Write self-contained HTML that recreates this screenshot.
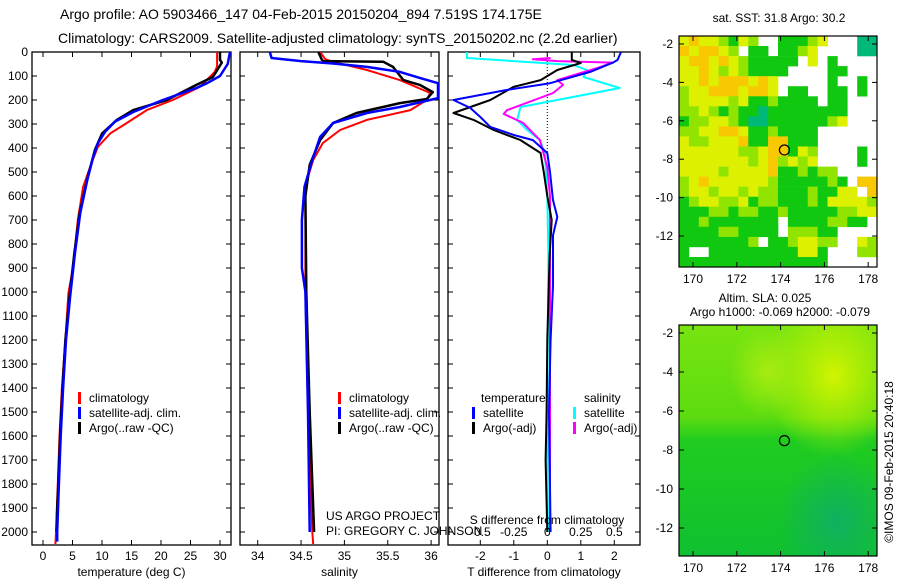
<!DOCTYPE html>
<html><head><meta charset="utf-8"><style>
html,body{margin:0;padding:0;background:#fff;}
svg{display:block;font-family:"Liberation Sans",sans-serif;}
</style></head><body>
<svg id="chart" width="900" height="580" viewBox="0 0 900 580" xmlns="http://www.w3.org/2000/svg">
<defs>
<clipPath id="c1"><rect x="32" y="52" width="199" height="493"/></clipPath>
<clipPath id="c2"><rect x="240" y="52" width="199" height="493"/></clipPath>
<clipPath id="c3"><rect x="448" y="52" width="192" height="493"/></clipPath>
<linearGradient id="gl" x1="0" y1="0" x2="0" y2="1"><stop offset="0" stop-color="#78e410"/><stop offset="0.4" stop-color="#5cdc10"/><stop offset="0.5" stop-color="#20cc20"/><stop offset="1" stop-color="#10c030"/></linearGradient>
<radialGradient id="g1" cx="0.78" cy="0.22" r="0.35"><stop offset="0" stop-color="#d0f400"/><stop offset="1" stop-color="#d0f400" stop-opacity="0"/></radialGradient>
<radialGradient id="g2" cx="0.8" cy="0.85" r="0.3"><stop offset="0" stop-color="#10b060"/><stop offset="1" stop-color="#10b060" stop-opacity="0"/></radialGradient>
<radialGradient id="g3" cx="0.45" cy="0.2" r="0.2"><stop offset="0" stop-color="#a8ec10"/><stop offset="1" stop-color="#a8ec10" stop-opacity="0"/></radialGradient>
</defs>
<text x="60" y="19" font-size="14">Argo profile: AO 5903466_147 04-Feb-2015 20150204_894 7.519S 174.175E</text>
<text x="58" y="43" font-size="14">Climatology: CARS2009. Satellite-adjusted climatology: synTS_20150202.nc (2.2d earlier)</text>
<g id="axes"></g>
<g id="maps"></g>
<text transform="translate(893,462) rotate(-90)" text-anchor="middle" font-size="12">©IMOS 09-Feb-2015 20:40:18</text>
</svg>
<script>
const tempClimDepth=[0,60,83,145,200,242,296,339,395,478,562,700,895,1005,1200,1400,1600,1800,2000,2050];
const tempClim=[29.5,29.5,29.1,26.6,22,17.6,14.2,11.4,9.3,8.0,6.8,5.9,5.1,4.3,3.8,3.2,2.8,2.5,2.2,2.1];
const tempSatDepth=[0,50,100,130,150,200,250,290,333,380,437,533,672,840,1020,1200,1400,1600,1800,2000,2040];
const tempSat=[31.7,31.3,30,27.8,26,20.3,15.3,12.2,10.5,9.3,8.5,7.5,6.3,5.4,4.6,3.9,3.4,3.0,2.7,2.4,2.4];
const tempArgoDepth=[0,33,44,104,137,200,242,283,340,408,520,672,840,1020,1200,1400,1600,1800,1900,2000];
const tempArgo=[30,30,30.3,28.8,26,21,15.3,12.5,10,8.8,7.6,6.2,5.3,4.5,3.8,3.3,2.9,2.6,2.4,2.3];
const salClimDepth=[0,30,41,75,117,171,200,242,283,325,380,450,533,600,1000,1500,2000,2050];
const salClim=[34.72,34.78,34.87,35.26,35.64,35.99,35.95,35.76,35.26,34.95,34.75,34.64,34.57,34.55,34.55,34.58,34.63,34.64];
const salSatDepth=[0,25,38,48,62,83,108,130,192,229,254,296,354,450,562,700,900,1000,1500,2000];
const salSat=[34.14,34.16,34.5,34.87,35.26,35.64,35.87,36.08,36.08,35.64,35.26,34.87,34.72,34.63,34.54,34.51,34.51,34.55,34.58,34.6];
const salArgoDepth=[0,33,38,41,62,117,137,167,196,213,254,296,367,470,600,1000,1500,2000];
const salArgo=[34.70,34.74,34.76,35.45,35.56,35.68,35.87,36.02,35.95,35.64,35.14,34.87,34.72,34.60,34.55,34.56,34.6,34.65];
const dTSatDepth=[0,33,44,83,130,158,200,233,271,312,346,367,421,500,617,687,764,972,1200,1500,2000];
const dTSat=[2.2,2.1,1.96,1.28,0.08,-1.2,-2.8,-2.3,-2.0,-1.7,-1.0,-0.43,0,0.08,0.17,0.3,0.17,0.17,0.1,0.05,0.1];
const dTArgoDepth=[0,33,46,75,117,145,200,254,283,325,367,421,504,600,700,850,1200,1500,1700,2000];
const dTArgo=[0.73,0.73,1.0,0.3,-0.2,-1.0,-1.7,-2.8,-2.2,-1.6,-0.8,-0.2,-0.1,0,0.13,0.07,0,-0.02,-0.05,0];
const dSSatDepth=[0,25,54,75,104,150,187,229,283,325,367,421,600,850,1500,2000];
const dSSat=[-0.6,-0.6,0.195,0.295,0.27,0.54,0.195,-0.2,-0.225,-0.15,-0.055,-0.018,0,0.008,0,0.005];
const dSArgoDepth=[25,30,38,44,67,117,137,171,242,258,296,367,480,600,850,1500,2000];
const dSArgo=[0.025,-0.108,0.075,0.49,0.37,0.075,0.118,0.043,-0.3,-0.325,-0.18,-0.055,0,0.02,0.02,0.02,0.02];
const depthTicks=[0,100,200,300,400,500,600,700,800,900,1000,1100,1200,1300,1400,1500,1600,1700,1800,1900,2000];
const tempTicks=[0,5,10,15,20,25,30];
const salTicks=[34,34.5,35,35.5,36];
const salTickLabels=["34","34.5","35","35.5","36"];
const dTTicks=[-2,-1,0,1,2];
const dSTicks=[-0.5,-0.25,0,0.25,0.5];
const dSTickLabels=["-0.5","-0.25","0","0.25","0.5"];
const latTicks=[-2,-4,-6,-8,-10,-12];
const lonTicks=[170,172,174,176,178];
const sstRows=["YOYYLGYLWWGGGLYWWWTT","OYOOYLWGGWGGLYWWWWTT","YOOYOYLGGGGGWYWGWWWW","YYOYLYLGGGGWWWWGGWWW","YYOYOOOYOYWWWWWGWWGW","LYYOOOYOOYWGGWWGGWGW","LYYYYLYGGLGGGGWGGWWW","LLYLGLGGTGGGGGGGGWWW","GLLYYLGTTGGGGGGLYWWW","LLYYOOYGGLGGGGWWWWWW","YLLYYYOGGOOGGGWWWWWW","YYYYYYLLYOOGYLWWWWGW","YYYYYYYLYOLYLYWWWWGW","YYYYLYYYYOGGLGLLWWWW","LYOYYYYYYLGGGGGLGWOO","LYYLYYLYLLGGGLGGYYWO","GLYYLLYGLLGGGLGYYYYL","GGGLLGLLGGLGGGGGLLYY","GGLGGGGGGGWGGGGLLGGW","GGGGLLGGGGWLLLGGWWWW","GGGGGGGLWGGLYYLLWWYL","GWWGGGGGGGGGYYGWWWLL","GGGGGGGGGGGGGGGWWWWW"];
const argoLon=174.175, argoLat=-7.519;

const NS="http://www.w3.org/2000/svg";
const axesG=document.getElementById('axes');
const mapsG=document.getElementById('maps');
function mk(tag,attrs,parent){const e=document.createElementNS(NS,tag);for(const k in attrs)e.setAttribute(k,attrs[k]);(parent||axesG).appendChild(e);return e;}
function yD(d){return 52+d*0.24;}
const xT=v=>43+v*5.9;
const xS=v=>257.7+(v-34)*86.7;
const xD=v=>547.3+v*33.5;
const xDS=v=>xD(v*4);

function panel(name,x0,x1,clip,xs,ticks,labels,title){
  const r=mk('rect',{x:x0,y:52,width:x1-x0,height:493,fill:'none',stroke:'#000','stroke-width':1.3});
  
  
  ticks.forEach((t,i)=>{
    const x=xs(t);
    mk('line',{x1:x,x2:x,y1:545,y2:540,stroke:'#000'});
    mk('line',{x1:x,x2:x,y1:52,y2:57,stroke:'#000'});
    if(labels){const tx=mk('text',{x:x,y:560,'font-size':12,'text-anchor':'middle'});tx.textContent=labels[i];
      
      }
  });
  depthTicks.forEach(d=>{
    mk('line',{x1:x0,x2:x0+5,y1:yD(d),y2:yD(d),stroke:'#000'});
    mk('line',{x1:x1,x2:x1-5,y1:yD(d),y2:yD(d),stroke:'#000'});
  });
  const tt=mk('text',{x:(x0+x1)/2,y:576,'font-size':12,'text-anchor':'middle'});tt.textContent=title;
  
  
  return mk('g',{'clip-path':'url(#'+clip+')'});
}
function line(g,depths,vals,xs,color,w,name){
  const pts=depths.map((d,i)=>xs(vals[i]).toFixed(1)+','+yD(d).toFixed(1)).join(' ');
  const p=mk('polyline',{points:pts,fill:'none',stroke:color,'stroke-width':w,'stroke-linejoin':'round'},g);
  
  
}
function legend(x,y,color,label,name){
  const m=mk('rect',{x:x,y:y-10,width:3,height:12,fill:color});
  
  
  const t=mk('text',{x:x+11,y:y,'font-size':12});t.textContent=label;
  
  
}

depthTicks.forEach(d=>{const t=mk('text',{x:28,y:yD(d)+4,'font-size':12,'text-anchor':'end'});t.textContent=String(d);
  
  });

const g1=panel('temperature-panel',32,231,'c1',xT,tempTicks,tempTicks.map(String),'temperature (deg C)');
line(g1,tempClimDepth,tempClim,xT,'#ff0000',2,'temp-climatology-line');
line(g1,tempArgoDepth,tempArgo,xT,'#000000',2.5,'temp-argo-line');
line(g1,tempSatDepth,tempSat,xT,'#0000ff',2.5,'temp-satellite-line');
legend(78,402,'#ff0000','climatology','temp-legend-climatology');
legend(78,417,'#0000ff','satellite-adj. clim.','temp-legend-satellite');
legend(78,432,'#000000','Argo(..raw -QC)','temp-legend-argo');

const g2=panel('salinity-panel',240,439,'c2',xS,salTicks,salTickLabels,'salinity');
line(g2,salClimDepth,salClim,xS,'#ff0000',2,'sal-climatology-line');
line(g2,salArgoDepth,salArgo,xS,'#000000',2.5,'sal-argo-line');
line(g2,salSatDepth,salSat,xS,'#0000ff',2.5,'sal-satellite-line');
legend(338,402,'#ff0000','climatology','sal-legend-climatology');
legend(338,417,'#0000ff','satellite-adj. clim.','sal-legend-satellite');
legend(338,432,'#000000','Argo(..raw -QC)','sal-legend-argo');
const pr1=mk('text',{x:326,y:520,'font-size':12});pr1.textContent='US ARGO PROJECT';


const pr2=mk('text',{x:326,y:535,'font-size':12});pr2.textContent='PI: GREGORY C. JOHNSON';



const g3=panel('difference-panel',448,640,'c3',xD,dTTicks,dTTicks.map(String),'T difference from climatology');
const zl=mk('line',{x1:xD(0),x2:xD(0),y1:52,y2:yD(440),stroke:'#000','stroke-dasharray':'1,2'},g3);


line(g3,dSSatDepth,dSSat,xDS,'#00ffff',2,'salinity-satellite-diff-line');
line(g3,dSArgoDepth,dSArgo,xDS,'#ff00ff',2,'salinity-argo-diff-line');
line(g3,dTArgoDepth,dTArgo,xD,'#000000',2,'temperature-argo-diff-line');
line(g3,dTSatDepth,dTSat,xD,'#0000ff',2,'temperature-satellite-diff-line');
dSTicks.forEach((t,i)=>{const tx=mk('text',{x:xDS(t),y:536,'font-size':12,'text-anchor':'middle'});tx.textContent=dSTickLabels[i];
  
  });
const st=mk('text',{x:547,y:524,'font-size':12,'text-anchor':'middle'});st.textContent='S difference from climatology';


const lt1=mk('text',{x:481,y:402,'font-size':12});lt1.textContent='temperature';


const lt2=mk('text',{x:584,y:402,'font-size':12});lt2.textContent='salinity';


legend(472,417,'#0000ff','satellite','diff-legend-temp-satellite');
legend(472,432,'#000000','Argo(-adj)','diff-legend-temp-argo');
legend(573,417,'#00ffff','satellite','diff-legend-sal-satellite');
legend(573,432,'#ff00ff','Argo(-adj)','diff-legend-sal-argo');

const colors={Y:'#dcf000',O:'#f8c800',G:'#10c810',L:'#90e400',W:'#ffffff',T:'#00b878'};
function mapAxes(name,top,bottom,latY){
  const lonX=v=>693+(v-170)*21.9;
  const r=mk('rect',{x:679,y:top,width:198,height:bottom-top,fill:'none',stroke:'#000','stroke-width':1.2},mapsG);
  
  
  latTicks.forEach(l=>{const y=latY(l);
    mk('line',{x1:679,x2:684,y1:y,y2:y,stroke:'#000'},mapsG);
    mk('line',{x1:877,x2:872,y1:y,y2:y,stroke:'#000'},mapsG);
    const t=mk('text',{x:673,y:y+4,'font-size':12,'text-anchor':'end'},mapsG);t.textContent=String(l);
    
    });
  lonTicks.forEach(l=>{const x=lonX(l);
    mk('line',{x1:x,x2:x,y1:top,y2:top+5,stroke:'#000'},mapsG);
    mk('line',{x1:x,x2:x,y1:bottom,y2:bottom-5,stroke:'#000'},mapsG);
    const t=mk('text',{x:x,y:bottom+16,'font-size':12,'text-anchor':'middle'},mapsG);t.textContent=String(l);
    
    });
  const c=mk('circle',{cx:lonX(argoLon),cy:latY(argoLat),r:5,fill:'none',stroke:'#000','stroke-width':1.2},mapsG);
  
  
}
const cw=198/20, ch=231/23;
sstRows.forEach((row,ri)=>{[...row].forEach((code,ci)=>{
  if(code==='W')return;
  const c=mk('rect',{x:(679+ci*cw).toFixed(1),y:(36+ri*ch).toFixed(1),width:(cw+0.3).toFixed(1),height:(ch+0.3).toFixed(1),fill:colors[code]},mapsG);
  
  
});});
mapAxes('sst-map',36,267,l=>44+(-2-l)*19.2);
const mt1=mk('text',{x:779,y:22,'font-size':12,'text-anchor':'middle'},mapsG);mt1.textContent='sat. SST: 31.8 Argo: 30.2';


const bg=mk('rect',{x:679,y:325,width:198,height:231,fill:'url(#gl)'},mapsG);


mk('rect',{x:679,y:325,width:198,height:231,fill:'url(#g1)'},mapsG);
mk('rect',{x:679,y:325,width:198,height:231,fill:'url(#g2)'},mapsG);
mk('rect',{x:679,y:325,width:198,height:231,fill:'url(#g3)'},mapsG);
mapAxes('sla-map',325,556,l=>333+(-2-l)*19.5);
const mt2=mk('text',{x:765,y:302,'font-size':12,'text-anchor':'middle'},mapsG);mt2.textContent='Altim. SLA: 0.025';


const mt3=mk('text',{x:780,y:316,'font-size':12,'text-anchor':'middle'},mapsG);mt3.textContent='Argo h1000: -0.069 h2000: -0.079';


</script>
</body></html>
